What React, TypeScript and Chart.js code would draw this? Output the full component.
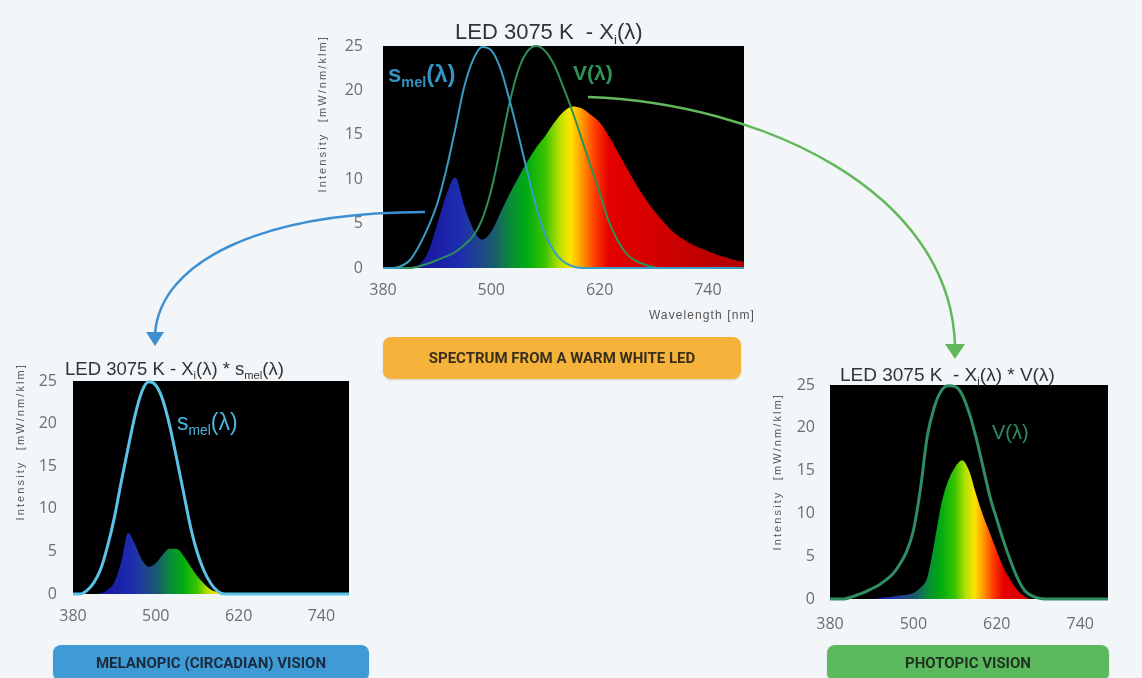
import React, { useEffect, useRef } from "react";
import { Chart, registerables } from "chart.js";

Chart.register(...registerables);

// ---------- DATA ----------
const wavelengths = [
  380, 390, 400, 410, 420, 430, 440, 450, 460, 470, 480, 490, 500, 510, 520, 530, 540, 550, 560, 570, 580,
  590, 600, 610, 620, 630, 640, 650, 660, 670, 680, 690, 700, 710, 720, 730, 740, 750, 760, 770, 780,
];

// LED 3075 K spectrum X_i(λ)
const ledSpectrum = [
  0, 0, 0, 0.1, 0.4, 1.8, 4.9, 8.2, 10.2, 7.0, 4.4, 3.2, 4.1, 6.2, 8.3, 10.2, 12.0, 13.6, 14.9, 16.4, 17.6,
  18.2, 18.0, 17.3, 16.4, 14.9, 13.1, 11.3, 9.5, 7.9, 6.5, 5.3, 4.2, 3.4, 2.8, 2.3, 1.9, 1.5, 1.2, 0.9, 0.7,
];

// s_mel(λ) as drawn on the top chart
const sMelTop = [
  0, 0, 0.2, 0.9, 2.5, 4.6, 7.2, 11.0, 15.6, 20.4, 23.5, 24.9, 24.5, 22.5, 19.0, 15.0, 10.8, 6.8, 3.7, 1.8, 0.7,
  0.2, 0, 0, 0, 0, 0, 0, 0, 0, 0, 0, 0, 0, 0, 0, 0, 0, 0, 0, 0,
];

// V(λ) as drawn on the top chart
const vLambdaTop = [
  0, 0, 0, 0, 0.2, 0.5, 0.9, 1.3, 1.8, 2.6, 3.6, 5.5, 8.8, 13.5, 18.5, 22.3, 24.4, 25.0, 24.4, 22.8, 20.3,
  17.6, 14.6, 11.5, 8.5, 5.3, 3.1, 1.6, 0.8, 0.4, 0.1, 0, 0, 0, 0, 0, 0, 0, 0, 0, 0,
];

// X_i(λ) * s_mel(λ)
const melanopicProduct = [
  0, 0, 0, 0, 0.1, 0.5, 1.4, 3.8, 7.2, 5.8, 4.0, 3.2, 3.6, 4.6, 5.3, 5.3, 4.5, 3.3, 2.1, 1.2, 0.5,
  0.2, 0, 0, 0, 0, 0, 0, 0, 0, 0, 0, 0, 0, 0, 0, 0, 0, 0, 0, 0,
];

// s_mel(λ) as drawn on the melanopic chart
const sMelBottom = [
  0, 0, 0.4, 1.3, 2.9, 5.6, 9.0, 13.2, 17.2, 21.0, 23.8, 24.9, 24.5, 22.8, 19.8, 16.0, 12.0, 8.0, 4.9, 2.7, 1.2,
  0.3, 0, 0, 0, 0, 0, 0, 0, 0, 0, 0, 0, 0, 0, 0, 0, 0, 0, 0, 0,
];

// X_i(λ) * V(λ)
const photopicProduct = [
  0, 0, 0, 0, 0, 0, 0, 0.1, 0.2, 0.3, 0.4, 0.5, 0.7, 1.3, 2.5, 6.5, 11.0, 13.8, 15.4, 16.2, 15.0,
  12.3, 9.8, 7.7, 5.6, 3.6, 2.2, 1.0, 0.3, 0, 0, 0, 0, 0, 0, 0, 0, 0, 0, 0, 0,
];

// V(λ) as drawn on the photopic chart
const vLambdaBottom = [
  0, 0, 0, 0.2, 0.5, 0.8, 1.2, 1.6, 2.2, 2.9, 4.0, 5.5, 8.0, 12.8, 19.0, 22.4, 24.3, 24.9, 24.8, 23.9, 21.8,
  18.9, 15.5, 12.0, 9.3, 6.7, 4.4, 2.4, 1.0, 0.4, 0.1, 0, 0, 0, 0, 0, 0, 0, 0, 0, 0,
];

const xTickValues = [380, 500, 620, 740];
const yMin = 0;
const yMax = 25;
const yStep = 5;
const xMin = 380;
const xMax = 780;

// ---------- STYLE ----------
const spectrumStops: [number, string][] = [
  [380, "#14104a"],
  [430, "#1a1aa0"],
  [465, "#1d2cb0"],
  [490, "#1e4a88"],
  [505, "#17606a"],
  [520, "#0a8a3a"],
  [540, "#00ac10"],
  [560, "#3cc400"],
  [575, "#b4e000"],
  [588, "#ffe400"],
  [600, "#ff9c00"],
  [615, "#ff3c00"],
  [630, "#e60000"],
  [700, "#cc0000"],
  [780, "#b00000"],
];

const toPoints = (arr: number[]) => wavelengths.map((w, i) => ({ x: w, y: arr[i] }));

const spectrumFill = (ctx: any) => {
  const chart = ctx.chart;
  const area = chart.chartArea;
  if (!area) return "rgba(0,0,0,0)";
  const xs = chart.scales.x;
  const g = chart.ctx.createLinearGradient(area.left, 0, area.right, 0);
  const w = area.right - area.left;
  for (const [nm, c] of spectrumStops) {
    const p = (xs.getPixelForValue(nm) - area.left) / w;
    g.addColorStop(Math.min(1, Math.max(0, p)), c);
  }
  return g;
};

const blackPlot = {
  id: "blackPlot",
  beforeDraw(chart: any) {
    const { ctx, chartArea } = chart;
    if (!chartArea) return;
    ctx.save();
    ctx.fillStyle = "#000";
    ctx.fillRect(chartArea.left, chartArea.top, chartArea.right - chartArea.left, chartArea.bottom - chartArea.top);
    ctx.restore();
  },
};

type LineSpec = { data: number[]; color: string; width: number };

type ChartProps = {
  left: number;
  top: number;
  width: number;
  height: number;
  yWidth: number;
  xHeight: number;
  padTop: number;
  padRight: number;
  xTickPad: number;
  yTickPad: number;
  fillData: number[];
  lines: LineSpec[];
};

function SpectrumChart(p: ChartProps) {
  const ref = useRef<HTMLCanvasElement>(null);
  useEffect(() => {
    if (!ref.current) return;
    const datasets: any[] = p.lines.map((l) => ({
      data: toPoints(l.data),
      borderColor: l.color,
      borderWidth: l.width,
      pointRadius: 0,
      fill: false,
      cubicInterpolationMode: "monotone",
      clip: 3,
      order: 1,
    }));
    datasets.push({
      data: toPoints(p.fillData),
      borderWidth: 0,
      borderColor: "rgba(0,0,0,0)",
      pointRadius: 0,
      fill: "origin",
      backgroundColor: spectrumFill,
      cubicInterpolationMode: "monotone",
      order: 5,
    });
    const tickFont = { family: "'Open Sans', sans-serif", size: 16 };
    const chart = new Chart(ref.current, {
      type: "line",
      data: { datasets },
      options: {
        animation: false,
        responsive: false,
        devicePixelRatio: 1,
        layout: { padding: { top: p.padTop, right: p.padRight, left: 0, bottom: 0 } },
        plugins: { legend: { display: false }, tooltip: { enabled: false }, title: { display: false } },
        scales: {
          x: {
            type: "linear",
            min: xMin,
            max: xMax,
            grid: { display: false, drawTicks: false },
            border: { display: false },
            afterBuildTicks: (s: any) => {
              s.ticks = xTickValues.map((v) => ({ value: v }));
            },
            afterFit: (s: any) => {
              s.height = p.xHeight;
              s.paddingLeft = 0;
              s.paddingRight = 0;
            },
            ticks: {
              autoSkip: false,
              maxRotation: 0,
              padding: p.xTickPad,
              color: "#6e6e6e",
              font: tickFont,
            },
          },
          y: {
            min: yMin,
            max: yMax,
            grid: { display: false, drawTicks: false },
            border: { display: false },
            afterFit: (s: any) => {
              s.width = p.yWidth;
              s.paddingTop = 0;
              s.paddingBottom = 0;
            },
            ticks: {
              stepSize: yStep,
              padding: p.yTickPad,
              color: "#6e6e6e",
              font: tickFont,
            },
          },
        },
      },
      plugins: [blackPlot],
    } as any);
    return () => chart.destroy();
  }, []);
  return (
    <canvas
      ref={ref}
      width={p.width}
      height={p.height}
      style={{ position: "absolute", left: p.left, top: p.top, width: p.width, height: p.height }}
    />
  );
}

const abs = (left: number, top: number, extra: React.CSSProperties = {}): React.CSSProperties => ({
  position: "absolute",
  left,
  top,
  whiteSpace: "nowrap",
  ...extra,
});

const subStyle: React.CSSProperties = { fontSize: "0.6em", verticalAlign: "-0.35em", lineHeight: 0 };

function YTitle({ cx, endY }: { cx: number; endY: number }) {
  const W = 220;
  const H = 14;
  const cy = endY + W / 2;
  return (
    <div
      style={abs(cx - W / 2, cy - H / 2, {
        width: W,
        height: H,
        lineHeight: H + "px",
        textAlign: "right",
        transform: "rotate(-90deg)",
        fontFamily: "'Liberation Sans', Arial, sans-serif",
        fontSize: 11,
        letterSpacing: 2.1,
        color: "#555",
      })}
    >
      Intensity&nbsp; [mW/nm/klm]
    </div>
  );
}

function LabelBox({ left, top, width, height, bg, color, text }: any) {
  return (
    <div
      style={abs(left, top, {
        width,
        height,
        background: bg,
        borderRadius: 8,
        boxShadow: "0 1px 2px rgba(0,0,0,0.15)",
        display: "flex",
        alignItems: "center",
        justifyContent: "center",
        fontFamily: "Roboto, 'Liberation Sans', sans-serif",
        fontWeight: 700,
        fontSize: 15,
        color,
      })}
    >
      {text}
    </div>
  );
}

export default function App() {
  const titleFont = "'Liberation Sans', Arial, sans-serif";
  return (
    <div
      style={{
        position: "absolute",
        left: 0,
        top: 0,
        width: 1142,
        height: 678,
        overflow: "hidden",
        background: "#f3f6f9",
        fontFamily: titleFont,
      }}
    >
      {/* Top: LED spectrum */}
      <SpectrumChart
        left={300}
        top={34}
        width={460}
        height={296}
        yWidth={83}
        xHeight={62}
        padTop={12}
        padRight={16}
        xTickPad={13}
        yTickPad={20}
        fillData={ledSpectrum}
        lines={[
          { data: sMelTop, color: "#3a9cc6", width: 2 },
          { data: vLambdaTop, color: "#2f8f58", width: 2 },
        ]}
      />
      {/* Bottom-left: melanopic */}
      <SpectrumChart
        left={0}
        top={369}
        width={365}
        height={266}
        yWidth={73}
        xHeight={41}
        padTop={12}
        padRight={16}
        xTickPad={13}
        yTickPad={16}
        fillData={melanopicProduct}
        lines={[{ data: sMelBottom, color: "#5cc2e6", width: 3 }]}
      />
      {/* Bottom-right: photopic */}
      <SpectrumChart
        left={760}
        top={373}
        width={365}
        height={266}
        yWidth={70}
        xHeight={40}
        padTop={12}
        padRight={17}
        xTickPad={16}
        yTickPad={15}
        fillData={photopicProduct}
        lines={[{ data: vLambdaBottom, color: "#2f8d62", width: 3 }]}
      />

      {/* Titles */}
      <div style={abs(455, 19, { fontSize: 22, color: "#333", lineHeight: "26px" })}>
        LED 3075 K&nbsp; - X<span style={subStyle}>i</span>(λ)
      </div>
      <div style={abs(65, 358, { fontSize: 18.5, color: "#333", lineHeight: "22px" })}>
        LED 3075 K - X<span style={subStyle}>i</span>(λ) * s<span style={subStyle}>mel</span>(λ)
      </div>
      <div style={abs(840, 364, { fontSize: 19, color: "#333", lineHeight: "22px" })}>
        LED 3075 K&nbsp; - X<span style={subStyle}>i</span>(λ) * V(λ)
      </div>

      {/* Axis titles */}
      <YTitle cx={322} endY={35} />
      <YTitle cx={20} endY={363} />
      <YTitle cx={777} endY={393} />
      <div
        style={abs(600, 308, {
          width: 155,
          textAlign: "right",
          fontSize: 12,
          letterSpacing: 1.1,
          color: "#555",
        })}
      >
        Wavelength [nm]
      </div>

      {/* Series labels */}
      <div style={abs(388, 60, { fontSize: 24, fontWeight: 700, color: "#3592c2", lineHeight: "28px" })}>
        s<span style={subStyle}>mel</span>(λ)
      </div>
      <div style={abs(573, 60, { fontSize: 21, fontWeight: 600, color: "#2f9458", lineHeight: "26px" })}>
        V(λ)
      </div>
      <div style={abs(177, 408, { fontSize: 23, color: "#4ab4e0", lineHeight: "28px" })}>
        s<span style={subStyle}>mel</span>(λ)
      </div>
      <div style={abs(992, 419, { fontSize: 20, color: "#2f8c63", lineHeight: "26px" })}>V(λ)</div>

      {/* Arrows */}
      <svg
        width={1142}
        height={678}
        style={{ position: "absolute", left: 0, top: 0, pointerEvents: "none" }}
      >
        <path d="M 425 212 C 260 212 160 262 155 334" stroke="#3d8fd1" strokeWidth={2.5} fill="none" />
        <polygon points="146,332 164,332 155,346" fill="#3d8fd1" />
        <path d="M 588 97 C 760 103 950 190 955 345" stroke="#62b85a" strokeWidth={2.5} fill="none" />
        <polygon points="945,344 965,344 955,359" fill="#62b85a" />
      </svg>

      {/* Label boxes */}
      <LabelBox left={383} top={337} width={358} height={42} bg="#f6b33c" color="#3a2f1a" text="SPECTRUM FROM A WARM WHITE LED" />
      <LabelBox left={53} top={645} width={316} height={36} bg="#3f9bd6" color="#1b2a3c" text="MELANOPIC (CIRCADIAN) VISION" />
      <LabelBox left={827} top={645} width={282} height={36} bg="#5cb85c" color="#1e3320" text="PHOTOPIC VISION" />
    </div>
  );
}
